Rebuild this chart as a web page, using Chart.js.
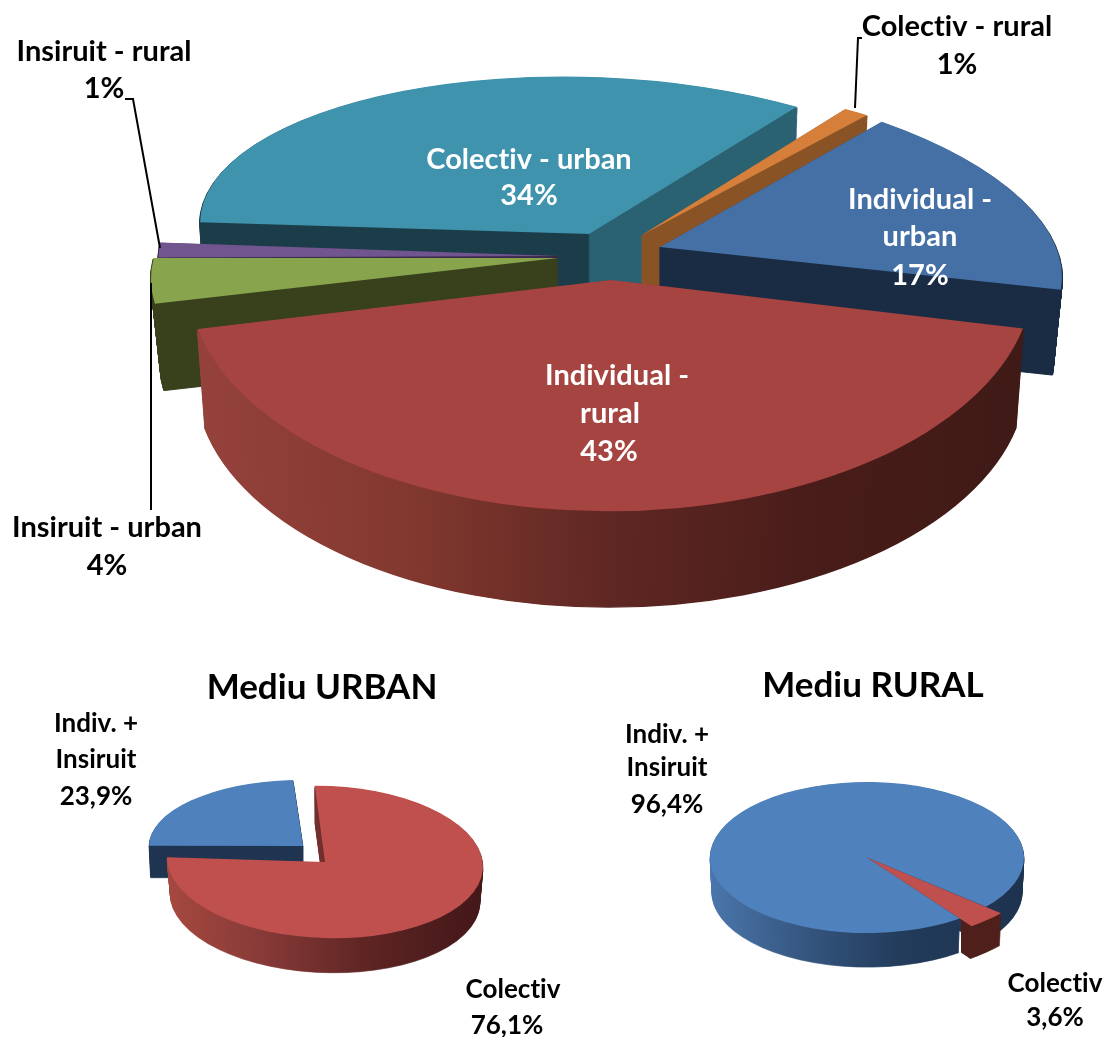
<!DOCTYPE html>
<html>
<head>
<meta charset="utf-8">
<style>
html,body{margin:0;padding:0;background:#fff;width:1106px;height:1037px;overflow:hidden}
canvas{position:absolute;left:0;top:0}
</style>
<script src="https://cdn.jsdelivr.net/npm/chart.js@4/dist/chart.umd.min.js"></script>
</head>
<body>
<canvas id="main" width="1106" height="1037"></canvas>
<canvas id="urban" width="1106" height="1037"></canvas>
<canvas id="rural" width="1106" height="1037"></canvas>
<script>
// ---- data ----
const mainCategories = ['Colectiv - rural','Individual - urban','Individual - rural','Insiruit - urban','Insiruit - rural','Colectiv - urban'];
const mainValues = [1,17,43.4,4,1,34];
const mainColors = ['#d57f3b','#4570a6','#a64441','#88a44c','#71558e','#4093ad'];
const urbanCategories = ['Colectiv','Indiv. + Insiruit'];
const urbanValues = [76.1,23.9];
const urbanColors = ['#c0504d','#4f81bd'];
const ruralCategories = ['Colectiv','Indiv. + Insiruit'];
const ruralValues = [3.6,96.4];
const ruralColors = ['#c0504d','#4f81bd'];

// ---- pseudo-3D views of each slice ----
const mainViews = [
  {x:642,y:235,r:400,k:.39,s:.136,m:-.012,depth:90,taper:.02,wall:[[0,'#8a5326'],[1,'#8a5326']]},
  {x:660,y:247,r:398,k:.433,s:.142,m:.014,depth:86,taper:.022,wall:[[0,'#1a2c44'],[1,'#1a2c44']]},
  {x:611,y:280,r:422,k:.548,s:0,m:-.004,depth:100,taper:.018,wall:[[0,'#96423c'],[.25,'#83392f'],[.5,'#5f2723'],[.75,'#481c19'],[1,'#3f1a16']]},
  {x:558,y:258,r:406,k:.453,s:-.07,m:-.02,depth:88,taper:.024,wall:[[0,'#38411c'],[1,'#38411c']]},
  {x:558,y:256,r:400,k:.6,s:0,m:-.03,depth:40,taper:.01,wall:[[0,'#3a2a4c'],[1,'#3a2a4c']]},
  {x:589,y:234,r:387,k:.4067,s:.1,m:-.0131,depth:90,taper:.015,wall:[[0,'#1a3d49'],[.499,'#1a3d49'],[.501,'#2a6272'],[1,'#2a6272']]}
];
const mainPaintOrder = [5,0,4,1,3,2];
const urbanViews = [
  {x:325,y:862,r:158,k:.482,s:0,m:.028,depth:36,taper:.02,wall:[[0,'#a5483f'],[.3,'#873a38'],[.65,'#5c2422'],[1,'#441719']]},
  {x:303,y:846,r:154,k:.43,s:0,m:0,depth:32,taper:.01,wall:[[0,'#1e3450'],[1,'#1e3450']]}
];
const urbanPaintOrder = [1,0];
const ruralViews = [
  {x:867,y:857.5,r:177,k:.481,s:0,m:0,depth:33,taper:.01,wallMinX:961,wall:[[0,'#4f1f1b'],[1,'#4f1f1b']]},
  {x:867,y:857.5,r:157,k:.481,s:0,m:0,depth:35,taper:.012,wall:[[0,'#4a76ab'],[.3,'#35567f'],[.6,'#233c5c'],[1,'#1d324e']]}
];
const ruralPaintOrder = [1,0];

// ---- text & leader lines ----
const FONT = 'Lato, Carlito, sans-serif';
const mainTexts = [
  ['Colectiv - urban',529,160,'#fff',29],['34%',529,196,'#fff',29],
  ['Individual -',920,200,'#fff',29],['urban',920,237,'#fff',29],['17%',920,276,'#fff',29],
  ['Individual -',617,376,'#fff',29],['rural',610,414,'#fff',29],['43%',609,452,'#fff',29],
  ['Colectiv - rural',957,27,'#000',29],['1%',957,65,'#000',29],
  ['Insiruit - rural',104,52,'#000',29],['1%',104,89,'#000',29],
  ['Insiruit - urban',107,528,'#000',29],['4%',107,566,'#000',29]
];
const mainLines = [
  [[125,99],[133,99],[160,248]],
  [[862,38],[858,38],[855,108]],
  [[151,283],[151,510]]
];
const urbanTexts = [
  ['Mediu URBAN',322,688,'#000',35],
  ['Indiv. +',96,724,'#000',26],['Insiruit',96,760,'#000',26],['23,9%',96,797,'#000',26],
  ['Colectiv',513,990,'#000',26],['76,1%',507,1026,'#000',26]
];
const ruralTexts = [
  ['Mediu RURAL',873,686,'#000',35],
  ['Indiv. +',667,735,'#000',26],['Insiruit',667,768,'#000',26],['96,4%',667,805,'#000',26],
  ['Colectiv',1055,984,'#000',26],['3,6%',1055,1018,'#000',26]
];

const pseudo3d = {
  id:'pseudo3d',
  beforeDatasetsDraw(chart, args, o){
    const ctx = chart.ctx, meta = chart.getDatasetMeta(0);
    const place = (arc, v, d)=>{
      const f = (1 - v.taper*d/Math.max(v.depth,1))*v.r/arc.outerRadius;
      ctx.translate(v.x, v.y + d);
      ctx.transform(f, f*v.m, f*v.s, f*v.k, 0, 0);
      ctx.translate(-arc.x, -arc.y);
    };
    const wall = i=>{
      const arc = meta.data[i], v = o.views[i], base = arc.options;
      // gradient whose iso-lines stay vertical on the page
      const L = arc.outerRadius, n = 1 + v.s*v.s;
      const g = ctx.createLinearGradient(arc.x - L/n, arc.y - L*v.s/n, arc.x + L/n, arc.y + L*v.s/n);
      v.wall.forEach(([t,c])=>g.addColorStop(t,c));
      arc.options = Object.assign({}, base, {backgroundColor:g, borderColor:g, borderWidth:1.2, borderAlign:'center'});
      ctx.save();
      if(v.wallMinX !== undefined){
        ctx.beginPath();
        ctx.rect(v.wallMinX, 0, chart.width, chart.height);
        ctx.clip();
      }
      for(let d=v.depth; d>=1; d--){
        ctx.save(); place(arc, v, d); arc.draw(ctx); ctx.restore();
      }
      ctx.restore();
      arc.options = base;
    };
    const top = i=>{
      const arc = meta.data[i];
      ctx.save(); place(arc, o.views[i], 0); arc.draw(ctx); ctx.restore();
    };
    if(o.wallsFirst){
      o.order.forEach(wall);
      o.order.forEach(top);
    } else {
      o.order.forEach(i=>{ wall(i); top(i); });
    }
    return false;
  },
  afterDraw(chart, args, o){
    const ctx = chart.ctx;
    ctx.save();
    ctx.strokeStyle = '#000'; ctx.lineWidth = 2;
    (o.lines||[]).forEach(l=>{
      ctx.beginPath();
      l.forEach(([x,y],j)=> j ? ctx.lineTo(x,y) : ctx.moveTo(x,y));
      ctx.stroke();
    });
    ctx.textAlign = 'center'; ctx.textBaseline = 'middle';
    ctx.letterSpacing = '0.01px';
    o.texts.forEach(([t,x,y,c,s])=>{
      ctx.font = 'bold '+s+'px '+FONT;
      ctx.fillStyle = c;
      ctx.fillText(t,x,y);
    });
    ctx.restore();
  }
};

function makePie(id, labels, values, colors, rotation, views, order, texts, lines, wallsFirst){
  return new Chart(document.getElementById(id), {
    type:'pie',
    data:{labels, datasets:[{data:values, backgroundColor:colors, borderWidth:0, clip:false}]},
    options:{
      responsive:false, animation:false, rotation, radius:200,
      events:[],
      plugins:{legend:{display:false}, tooltip:{enabled:false},
        pseudo3d:{views, order, texts, lines, wallsFirst}}
    },
    plugins:[pseudo3d]
  });
}
makePie('main', mainCategories, mainValues, mainColors, 38, mainViews, mainPaintOrder, mainTexts, mainLines, false);
makePie('urban', urbanCategories, urbanValues, urbanColors, -3.7, urbanViews, urbanPaintOrder, urbanTexts, [], false);
makePie('rural', ruralCategories, ruralValues, ruralColors, 130.8, ruralViews, ruralPaintOrder, ruralTexts, [], true);
</script>
</body>
</html>
